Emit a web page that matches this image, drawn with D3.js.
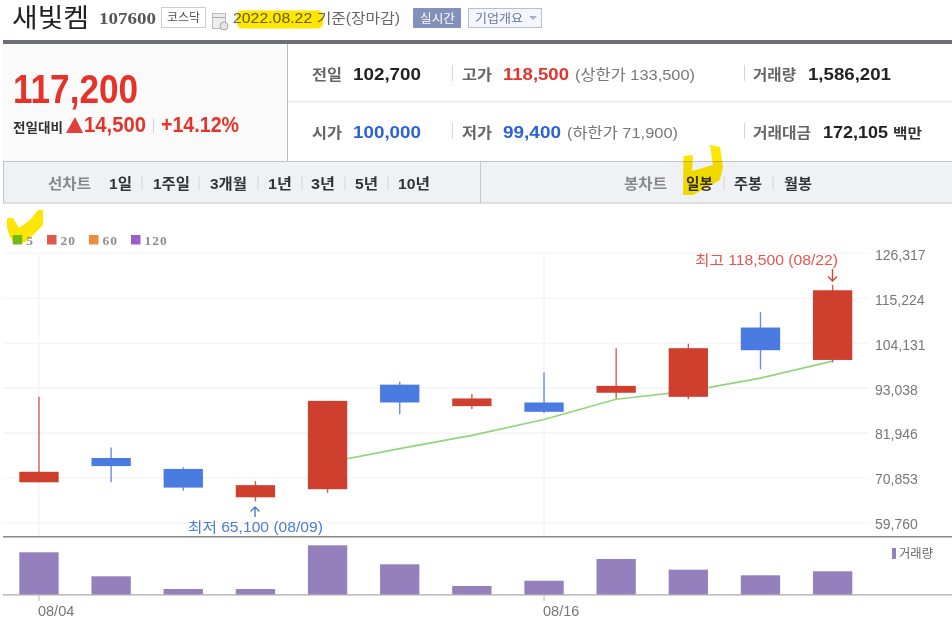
<!DOCTYPE html>
<html>
<head>
<meta charset="utf-8">
<script src="https://cdnjs.cloudflare.com/ajax/libs/d3/7.8.5/d3.min.js"></script>
<style>
  html, body { margin: 0; padding: 0; background: #fff; }
  /* the reference is a slightly soft, upscaled screenshot */
  svg { display: block; filter: blur(0.35px); }
  text { font-family: "Liberation Sans", "Noto Sans CJK KR", sans-serif; }
</style>
</head>
<body>
<svg id="chart" width="952" height="621"></svg>
<script>
// daily candles, 08/04 - 08/22
var dates  = ['08/04', '08/05', '08/08', '08/09', '08/10', '08/11', '08/12', '08/16', '08/17', '08/18', '08/19', '08/22'];
var opens  = [69800, 75800, 73100, 66100, 68100, 93900, 88600, 89500, 91900, 90900, 108000, 100000];
var highs  = [90900, 78400, 73500, 70100, 89900, 94600, 91600, 96900, 102900, 104000, 111800, 118500];
var lows   = [69800, 69800, 67700, 65100, 67200, 86600, 87900, 86900, 90500, 90300, 97700, 99400];
var closes = [72400, 73800, 68500, 69100, 89900, 89500, 90500, 87200, 93600, 102900, 102400, 117200];
var volumes = [2874000, 1247000, 386000, 386000, 3349000, 2061000, 590000, 949000, 2420000, 1695000, 1315000, 1586201];

// 5 day average only starts at the fifth session
var ma5Dates = ['08/10', '08/11', '08/12', '08/16', '08/17', '08/18', '08/19', '08/22'];
var ma5Values = [74700, 78100, 81400, 85300, 90300, 92300, 95500, 99700];

var priceTicks = [59760, 70853, 81946, 93038, 104131, 115224, 126317];
var dateTicks = ['08/04', '08/16'];

var legendLabels = ['5', '20', '60', '120'];
var legendColors = ['#74b816', '#e2574c', '#eb8f3c', '#9b5fc8'];

var RED = '#ce3f2d', BLUE = '#4a7be0', PURPLE = '#9580bd';

var svg = d3.select('#chart');

var x = d3.scaleBand().domain(dates).range([2.9, 868.7]).paddingInner(0.455).paddingOuter(0.2275);
var y = d3.scaleLinear().domain([59760, 126317]).range([523, 253.3]);
var yVol = d3.scaleLinear().domain([0, 3349000]).range([594.7, 545.3]);
var cx = function(d) { return x(d) + x.bandwidth() / 2; };

function txt(px, py, s, size, color, weight, len, adjust) {
  var t = svg.append('text')
    .attr('x', px).attr('y', py)
    .attr('font-size', size)
    .attr('fill', color)
    .attr('font-weight', weight || 'normal')
    .text(s);
  if (len) t.attr('textLength', len).attr('lengthAdjust', adjust || 'spacingAndGlyphs');
  return t;
}

function sep(px, y1, y2) {
  svg.append('line').attr('x1', px).attr('x2', px).attr('y1', y1).attr('y2', y2)
    .attr('stroke', '#d5d5d5').attr('stroke-width', 1);
}

// ---- yellow marker scribbles, multiplied over what is painted after them is not needed
// so the check mark goes first and the green legend square stays clean on top of it
svg.append('path').attr('d', 'M7 218L13 218L19 228L30 220L38 210L43 210L43 225L33 235L25 242L15 244L10 237L7 228Z')
  .attr('fill', '#ffe600');

// ---- header
txt(12, 27, '새빛켐', 26, '#222', 'normal', 77);
txt(99, 24, '107600', 16, '#555', 'bold', 57).style('font-family', '"Liberation Serif"');
svg.append('rect').attr('x', 161.5).attr('y', 7.5).attr('width', 44).attr('height', 20)
  .attr('fill', '#fff').attr('stroke', '#ccc');
txt(167, 22, '코스닥', 12, '#555', 'normal', 33);
svg.append('rect').attr('x', 212.5).attr('y', 13.5).attr('width', 13).attr('height', 15)
  .attr('fill', '#eee').attr('stroke', '#bbb');
svg.append('line').attr('x1', 213).attr('x2', 225).attr('y1', 17.5).attr('y2', 17.5).attr('stroke', '#aaa');
svg.append('circle').attr('cx', 224).attr('cy', 26).attr('r', 4).attr('fill', '#e4e4e4').attr('stroke', '#aaa');
txt(233, 23, '2022.08.22 기준(장마감)', 14, '#666', 'normal', 167);
svg.append('rect').attr('x', 413).attr('y', 8).attr('width', 48).attr('height', 20).attr('rx', 1).attr('fill', '#8291bb');
txt(420, 23, '실시간', 12, '#fff', 'normal', 35);
svg.append('rect').attr('x', 468.5).attr('y', 8.5).attr('width', 73).attr('height', 19)
  .attr('fill', '#f4f6fb').attr('stroke', '#b4bfda');
txt(475, 23, '기업개요', 12, '#67779c', 'normal', 48);
svg.append('path').attr('d', 'M529 16h8l-4 4z').attr('fill', '#a5b0cb');

svg.append('rect').attr('x', 3).attr('y', 40).attr('width', 949).attr('height', 4).attr('fill', '#6b6e76');

// ---- price summary
svg.append('rect').attr('x', 3).attr('y', 44).attr('width', 285).attr('height', 117).attr('fill', '#fafafa');
svg.append('line').attr('x1', 287.5).attr('x2', 287.5).attr('y1', 44).attr('y2', 161).attr('stroke', '#bbb');
svg.append('line').attr('x1', 288).attr('x2', 952).attr('y1', 101.5).attr('y2', 101.5).attr('stroke', '#eee').attr('stroke-width', 2);

txt(13, 103, '117,200', 41, '#e5332a', 'bold', 125);
txt(13, 132, '전일대비', 13, '#333', 'bold', 50);
svg.append('path').attr('d', 'M75 117L83 133H66z').attr('fill', '#e0413a');
txt(84, 132, '14,500', 22, '#e5332a', 'bold', 62);
sep(153.5, 118, 133);
txt(161, 132, '+14.12%', 22, '#e5332a', 'bold', 78);

txt(312, 80, '전일', 15, '#666', 'bold', 30);
txt(353, 80, '102,700', 17, '#222', 'bold', 68);
sep(452.5, 65, 81);
txt(462, 80, '고가', 15, '#666', 'bold', 30);
txt(503, 80, '118,500', 17, '#e5332a', 'bold', 66);
txt(575, 80, '(상한가 133,500)', 15, '#777', 'normal', 120);
sep(744.5, 65, 81);
txt(753, 80, '거래량', 15, '#666', 'bold', 43);
txt(808, 80, '1,586,201', 17, '#222', 'bold', 83);

txt(312, 138, '시가', 15, '#666', 'bold', 30);
txt(353, 138, '100,000', 17, '#2b62d8', 'bold', 68);
sep(452.5, 123, 139);
txt(462, 138, '저가', 15, '#666', 'bold', 30);
txt(503, 138, '99,400', 17, '#2b62d8', 'bold', 58);
txt(567, 138, '(하한가 71,900)', 15, '#777', 'normal', 111);
sep(744.5, 123, 139);
txt(753, 138, '거래대금', 15, '#666', 'bold', 58);
txt(823, 138, '172,105', 17, '#222', 'bold', 65);
txt(893, 138, '백만', 14, '#333', 'bold', 29);

// ---- period tabs
svg.append('rect').attr('x', 3.5).attr('y', 161.5).attr('width', 949).attr('height', 41.5)
  .attr('fill', '#f0f1f5').attr('stroke', '#c4c4c4');
svg.append('line').attr('x1', 480.5).attr('x2', 480.5).attr('y1', 162).attr('y2', 203).attr('stroke', '#c8c8c8');

txt(48, 189, '선차트', 15, '#888', 'bold', 43);
txt(109, 189, '1일', 15, '#333', 'bold', 23);
sep(142, 176, 190);
txt(153, 189, '1주일', 15, '#333', 'bold', 37);
sep(199, 176, 190);
txt(210, 189, '3개월', 15, '#333', 'bold', 37);
sep(258, 176, 190);
txt(268, 189, '1년', 15, '#333', 'bold', 24);
sep(302, 176, 190);
txt(311, 189, '3년', 15, '#333', 'bold', 24);
sep(345, 176, 190);
txt(355, 189, '5년', 15, '#333', 'bold', 23);
sep(388, 176, 190);
txt(398, 189, '10년', 15, '#333', 'bold', 32);
txt(624, 189, '봉차트', 15, '#888', 'bold', 43);
txt(686, 189, '일봉', 15, '#333', 'bold', 27);
sep(724, 176, 190);
txt(734, 189, '주봉', 15, '#333', 'bold', 28);
sep(773, 176, 190);
txt(784, 189, '월봉', 15, '#333', 'bold', 28);

// ---- chart legend
var legend = svg.append('g').selectAll('g').data(legendLabels).enter().append('g')
  .attr('transform', function(d, i) { return 'translate(' + [12.7, 47, 89, 131][i] + ',235)'; });
legend.append('rect').attr('width', 9.5).attr('height', 9.5)
  .attr('fill', function(d, i) { return legendColors[i]; });
legend.append('text').attr('x', 13.5).attr('y', 9.5)
  .attr('font-size', 13.5).attr('font-weight', 'bold').attr('fill', '#8f8f8f')
  .attr('letter-spacing', 1).style('font-family', '"Liberation Serif"')
  .text(function(d) { return d; });

// ---- grid
svg.append('g').selectAll('line').data(priceTicks).enter().append('line')
  .attr('x1', 3).attr('x2', 869)
  .attr('y1', function(d) { return y(d); }).attr('y2', function(d) { return y(d); })
  .attr('stroke', '#f2f2f2').attr('stroke-width', 1.1);
svg.append('g').selectAll('line').data(dateTicks).enter().append('line')
  .attr('x1', cx).attr('x2', cx).attr('y1', y(126317)).attr('y2', 537)
  .attr('stroke', '#f2f2f2').attr('stroke-width', 1.1);

// ---- price axis
var yAxis = svg.append('g').attr('transform', 'translate(869,0)')
  .call(d3.axisRight(y).tickValues(priceTicks).tickFormat(d3.format(',')).tickSize(0).tickPadding(6));
yAxis.select('.domain').remove();
yAxis.selectAll('text').attr('font-size', 14).attr('fill', '#777')
  .style('font-family', '"Liberation Sans"').attr('dy', '0.42em');

// ---- moving average
var ma5Line = d3.line()
  .x(function(d, i) { return cx(ma5Dates[i]); })
  .y(function(d) { return y(d); });
svg.append('path').datum(ma5Values).attr('d', ma5Line)
  .attr('fill', 'none').attr('stroke', '#92d67c').attr('stroke-width', 1.7);

// ---- candles
var candleColor = function(i) { return closes[i] >= opens[i] ? RED : BLUE; };
var candles = svg.append('g').selectAll('g').data(dates).enter().append('g');
candles.append('line')
  .attr('x1', cx).attr('x2', cx)
  .attr('y1', function(d, i) { return y(highs[i]); })
  .attr('y2', function(d, i) { return y(lows[i]); })
  .attr('stroke', function(d, i) { return candleColor(i); })
  .attr('stroke-opacity', 0.85).attr('stroke-width', 1.4);
candles.append('rect')
  .attr('x', function(d) { return x(d); })
  .attr('width', x.bandwidth())
  .attr('y', function(d, i) { return y(Math.max(opens[i], closes[i])); })
  .attr('height', function(d, i) { return Math.abs(y(opens[i]) - y(closes[i])); })
  .attr('fill', function(d, i) { return candleColor(i); });

// ---- high / low marks
txt(695, 265, '최고 118,500 (08/22)', 14, '#e85450', 'normal', 143);
svg.append('path').attr('d', 'M832.5 269V281M828 276.5L832.5 281L837 276.5')
  .attr('fill', 'none').attr('stroke', '#d8443a').attr('stroke-width', 1.4);
txt(188, 531.5, '최저 65,100 (08/09)', 14, '#4a7cd8', 'normal', 135);
svg.append('path').attr('d', 'M255 507V517M250.5 511.5L255 507L259.5 511.5')
  .attr('fill', 'none').attr('stroke', '#4a7cd8').attr('stroke-width', 1.4);

// ---- volume pane
svg.append('line').attr('x1', 3).attr('x2', 952).attr('y1', 536.7).attr('y2', 536.7)
  .attr('stroke', '#888').attr('stroke-width', 1.4);
svg.append('g').selectAll('rect').data(dates).enter().append('rect')
  .attr('x', function(d) { return x(d); })
  .attr('width', x.bandwidth())
  .attr('y', function(d, i) { return yVol(volumes[i]); })
  .attr('height', function(d, i) { return yVol(0) - yVol(volumes[i]); })
  .attr('fill', PURPLE);
svg.append('line').attr('x1', 3).attr('x2', 952).attr('y1', 594.9).attr('y2', 594.9)
  .attr('stroke', '#aaa').attr('stroke-width', 1.2);
svg.append('rect').attr('x', 892).attr('y', 548).attr('width', 4).attr('height', 11).attr('fill', PURPLE);
txt(899, 558, '거래량', 12.5, '#666', 'normal', 34);

// ---- date axis
svg.append('g').selectAll('line').data(dateTicks).enter().append('line')
  .attr('x1', cx).attr('x2', cx).attr('y1', 595).attr('y2', 601).attr('stroke', '#bbb');
svg.append('g').selectAll('text').data(dateTicks).enter().append('text')
  .attr('x', function(d) { return cx(d) - 1; }).attr('y', 616)
  .attr('font-size', 14.5).attr('fill', '#777')
  .text(function(d) { return d; });

// ---- the other two marker strokes sit over the text, so they multiply
var marker = svg.append('g').style('mix-blend-mode', 'multiply').attr('fill', '#ffe600');
marker.append('rect').attr('x', 237).attr('y', 10.5).attr('width', 86).attr('height', 18).attr('rx', 5);
marker.append('path').attr('d', 'M683.5 156L693 155L692 171L713 165L710 145L720 147L723 167L720 180L693 195L683 195Z');
</script>
</body>
</html>
